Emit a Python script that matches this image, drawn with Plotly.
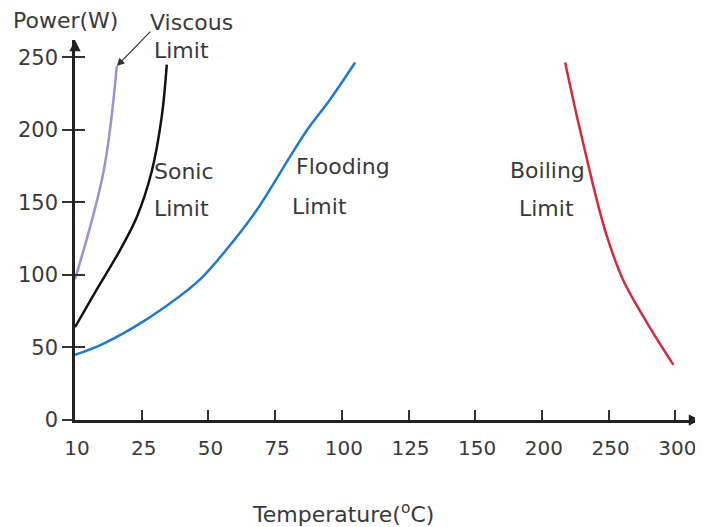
import plotly.graph_objects as go
import numpy as np

# ---- data ----
tick_temps = [10, 25, 50, 75, 100, 125, 150, 200, 250, 300]
tick_labels = [str(t) for t in tick_temps]
power_ticks = [0, 50, 100, 150, 200, 250]

viscous_T = [10, 16.4, 19.4]
viscous_W = [97, 171, 244]

sonic_T = [10, 14.9, 20.1, 23.9, 28.7, 32.5, 34.4]
sonic_W = [64, 90, 117, 140, 171, 209, 245]

flood_T = [10, 15.6, 23.0, 34.5, 46.9, 59.2, 68.2, 80.6, 87.0, 95.6, 105]
flood_W = [45, 51.5, 63.5, 79, 97, 123, 145, 181.6, 200, 221, 246.5]

boil_T = [217.4, 226.3, 233.8, 240.5, 248.8, 260.8, 278.8, 298.6]
boil_W = [246.5, 209, 179.6, 154, 126.4, 96.7, 67, 38]

tick_idx = list(range(len(tick_temps)))


def pos(T):
    # non-uniform temperature axis: ticks are evenly spaced
    return np.interp(T, tick_temps, tick_idx)


FONT = "DejaVu Sans"
TXT = "#3a3a3a"
XMAX = 9.37
YMAX = 262

fig = go.Figure()
series = [
    (viscous_T, viscous_W, "#a08ecf"),
    (sonic_T, sonic_W, "#111111"),
    (flood_T, flood_W, "#1f7acb"),
    (boil_T, boil_W, "#d22b3b"),
]
for T, W, c in series:
    fig.add_trace(go.Scatter(x=pos(T), y=W, mode="lines",
                             line=dict(color=c, width=2.5, shape="spline", smoothing=1.0),
                             showlegend=False, hoverinfo="skip"))

labels = [
    ("Limit", 1.15, 255),
    ("Sonic", 1.15, 171), ("Limit", 1.15, 146),
    ("Flooding", 3.28, 175), ("Limit", 3.22, 147),
    ("Boiling", 6.49, 172), ("Limit", 6.63, 146),
]
for t, x, y in labels:
    fig.add_annotation(x=x, y=y, text=t, showarrow=False, xanchor="left",
                       yanchor="middle", font=dict(family=FONT, size=22, color=TXT))

paper_labels = [
    ("Viscous", 0.117, 1.047),
    ("Power(W)", -0.103, 1.05),
    ("Temperature(<sup>o</sup>C)", 0.28, -0.245),
]
for t, x, y in paper_labels:
    fig.add_annotation(x=x, y=y, xref="paper", yref="paper", text=t, showarrow=False,
                       xanchor="left", yanchor="middle",
                       font=dict(family=FONT, size=22, color=TXT))

# pointer from "Viscous" label to the viscous limit line
fig.add_annotation(x=pos(viscous_T[-1]), y=viscous_W[-1], text="", showarrow=True,
                   ax=35, ay=-36, arrowhead=2, arrowsize=1.3, arrowwidth=1.2,
                   arrowcolor="#333")
# axis arrows
fig.add_annotation(x=XMAX, y=0, text="", showarrow=True, ax=-12, ay=0,
                   arrowhead=2, arrowsize=0.9, arrowwidth=2.5, arrowcolor="#222")
fig.add_annotation(x=0, y=YMAX, text="", showarrow=True, ax=0, ay=12,
                   arrowhead=2, arrowsize=0.9, arrowwidth=2.5, arrowcolor="#222")

fig.update_layout(
    width=695, height=519,
    margin=dict(l=67, r=3, t=32, b=107, autoexpand=False),
    plot_bgcolor="white", paper_bgcolor="white",
    font=dict(family=FONT, color=TXT),
    xaxis=dict(range=[0, XMAX], tickvals=tick_idx, ticktext=tick_labels,
               ticks="inside", ticklen=10, tickwidth=1.5, tickcolor="#333",
               showline=True, linewidth=2.5, linecolor="#222", automargin=False,
               showgrid=False, zeroline=False, ticklabelstandoff=8, ticklabelshift=2,
               tickfont=dict(family=FONT, size=20, color=TXT)),
    yaxis=dict(range=[0, YMAX], tickvals=power_ticks, automargin=False,
               ticks="outside", ticklen=10, tickwidth=1.5, tickcolor="#333",
               showline=True, linewidth=2.5, linecolor="#222",
               showgrid=False, zeroline=False,
               tickfont=dict(family=FONT, size=21, color=TXT)),
    yaxis2=dict(range=[0, YMAX], matches="y", overlaying="y", side="left",
                tickvals=power_ticks, ticks="inside", ticklen=10, tickwidth=1.5,
                tickcolor="#333", showticklabels=False, showgrid=False,
                zeroline=False, showline=False, automargin=False),
)
fig.add_trace(go.Scatter(x=[None], y=[None], yaxis="y2", showlegend=False))

fig.write_html("out.html")
